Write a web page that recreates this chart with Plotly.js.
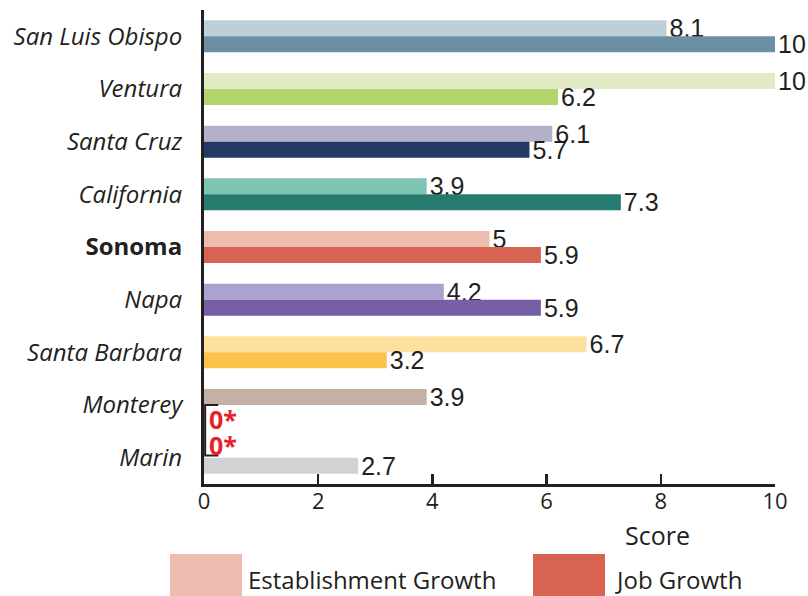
<!DOCTYPE html>
<html>
<head>
<meta charset="utf-8">
<script src="https://cdn.plot.ly/plotly-3.0.1.min.js"></script>
<style>html,body{margin:0;padding:0;background:#fff;}#chart{width:808px;height:596px;}</style>
</head>
<body>
<div id="chart"></div>
<script>
const categories = ['San Luis Obispo','Ventura','Santa Cruz','California','Sonoma','Napa','Santa Barbara','Monterey','Marin'];
const highlighted = 'Sonoma';
const establishment = [8.1, 10, 6.1, 3.9, 5, 4.2, 6.7, 3.9, 0];
const jobGrowth = [10, 6.2, 5.7, 7.3, 5.9, 5.9, 3.2, 0, 2.7];
const estColors = ['#bdd0da','#e0ebc6','#b3b1c9','#7fc4b4','#edbcae','#ada1cf','#fddf9e','#c4b0a4','#d1d2d4'];
const jobColors = ['#6b8fa3','#b3d66c','#233a66','#267a70','#d96353','#775fa8','#fcc24a','#8c7466','#d1d2d4'];
const seriesNames = ['Establishment Growth','Job Growth'];
const legendColors = ['#edbcae','#d96353'];
const xTicks = [0, 2, 4, 6, 8, 10];
const xTitle = 'Score';
const zeroLabel = '0*';

const ink = '#231f20';
const labelFont = {family: 'Liberation Sans, Arial, sans-serif', size: 25, color: ink};
const catFamily = 'Open Sans, Noto Sans, sans-serif';

function txt(v){ return v === 0 ? '' : String(v); }

const traces = [
  {type:'bar', orientation:'h', name:seriesNames[0], y:categories, x:establishment,
   marker:{color:estColors}, text:establishment.map(txt), textposition:'outside',
   textfont:labelFont, constraintext:'none', cliponaxis:false, hoverinfo:'skip'},
  {type:'bar', orientation:'h', name:seriesNames[1], y:categories, x:jobGrowth,
   marker:{color:jobColors}, text:jobGrowth.map(txt), textposition:'outside',
   textfont:labelFont, constraintext:'none', cliponaxis:false, hoverinfo:'skip'}
];

// plot area in pixels
const L = 204, R = 775, T = 10, B = 484;
const W = 808, H = 596;
const px = x => (x - L) / (R - L);
const py = y => (B - y) / (B - T);

const annotations = [];
const shapes = [];
const zeroIdx = [];
establishment.forEach((v,i)=>{ if(v===0){ zeroIdx.push(i); annotations.push({x:0, y:categories[i], xref:'x', yref:'y', text:'<b>'+zeroLabel+'</b>', showarrow:false, xanchor:'left', yanchor:'middle', xshift:3, yshift:13, font:{family:catFamily, size:25, color:'#e8202a'}}); }});
jobGrowth.forEach((v,i)=>{ if(v===0){ zeroIdx.push(i); annotations.push({x:0, y:categories[i], xref:'x', yref:'y', text:'<b>'+zeroLabel+'</b>', showarrow:false, xanchor:'left', yanchor:'middle', xshift:3, yshift:-14, font:{family:catFamily, size:25, color:'#e8202a'}}); }});
if (zeroIdx.length >= 2) {
  const a = Math.min(...zeroIdx), b = Math.max(...zeroIdx);
  shapes.push({type:'path', xref:'x', yref:'y', path:`M 0.25 ${a} L 0.02 ${a} L 0.02 ${b-0.04} L 0.25 ${b-0.04}`, line:{color:ink, width:2}});
}

// x title
annotations.push({xref:'paper', yref:'paper', x:px(657), y:py(535), text:xTitle, showarrow:false, xanchor:'center', yanchor:'middle', font:{family:catFamily, size:25, color:ink}});

// legend
const legBoxes = [[170,242],[533,605]];
const legText = [246, 613];
seriesNames.forEach((n,i)=>{
  shapes.push({type:'rect', xref:'paper', yref:'paper', x0:px(legBoxes[i][0]), x1:px(legBoxes[i][1]), y0:py(554), y1:py(596), fillcolor:legendColors[i], line:{width:0}});
  annotations.push({xref:'paper', yref:'paper', x:px(legText[i]), y:py(579), text:n, showarrow:false, xanchor:'left', yanchor:'middle', font:{family:catFamily, size:24, color:ink}});
});

const ticktext = categories.map(c => c === highlighted ? '<b>'+c+'</b>' : '<i>'+c+'</i>');

const layout = {
  width:W, height:H,
  margin:{l:L, r:W-R, t:T, b:H-B, pad:0},
  paper_bgcolor:'#fff', plot_bgcolor:'#fff',
  showlegend:false,
  barmode:'group', bargap:0.393, bargroupgap:0,
  font:{family:catFamily, color:ink},
  xaxis:{range:[0,10], autorange:false, tickvals:xTicks, ticktext:xTicks.map(String), ticks:'inside', ticklen:10, tickwidth:2.5, tickcolor:ink,
         showline:true, linecolor:ink, linewidth:3, showgrid:false, zeroline:false, fixedrange:true, automargin:false,
         tickfont:{family:catFamily, size:22, color:ink}, ticklabelstandoff:-4},
  yaxis:{type:'category', categoryorder:'array', categoryarray:categories, range:[categories.length-0.5, -0.5], autorange:false,
         tickmode:'array', tickvals:categories, ticktext:ticktext, ticks:'', showline:true, linecolor:ink, linewidth:3, automargin:false,
         showgrid:false, zeroline:false, fixedrange:true, tickfont:{family:catFamily, size:24, color:ink}, ticklabelstandoff:14},
  annotations:annotations,
  shapes:shapes
};

Plotly.newPlot('chart', traces, layout, {staticPlot:true, displayModeBar:false});
</script>
</body>
</html>
